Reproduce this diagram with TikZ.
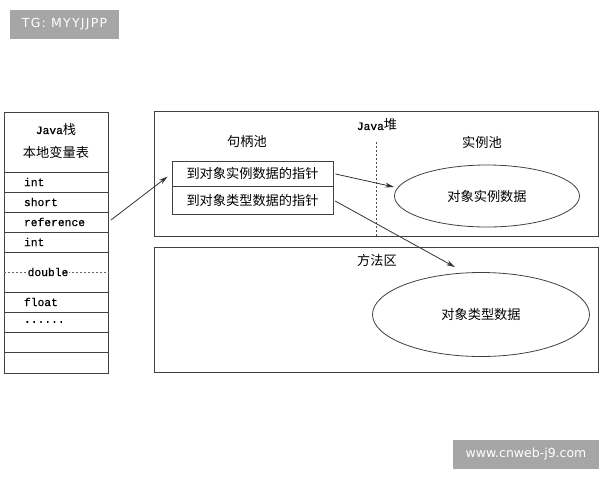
\documentclass[tikz,border=0pt]{standalone}
\usepackage{fontspec}
\setmonofont[FakeBold=0.6]{Liberation Mono}
\newfontfamily\cjk{Noto Sans CJK SC}
\newfontfamily\wmfont{DejaVu Sans}
\usetikzlibrary{arrows.meta,shapes.geometric}
\newcommand{\monofs}{\fontsize{11.3}{13}\selectfont\ttfamily}
\newcommand{\cjkfs}{\fontsize{13.2}{15}\selectfont\cjk}
\newcommand{\wmfs}{\fontsize{12.5}{14}\selectfont\wmfont}

\begin{document}
\begin{tikzpicture}[x=1pt,y=-1pt,line width=0.8pt,
  slot/.style={draw=black!75,minimum width=104pt,minimum height=20pt,text width=64pt,inner xsep=20pt,inner ysep=0pt,align=left,font=\monofs},
  cell/.style={draw=black!75,minimum width=161pt,inner sep=0pt,font=\cjkfs},
  pool/.style={draw=black!75,ellipse,inner sep=0pt,font=\cjkfs},
  arr/.style={-{Stealth[length=9pt,width=5pt]},draw=black!80},
  tag/.style={fill=black!35,text=white,minimum height=29pt,inner sep=0pt,font=\wmfs}]
\useasboundingbox (0,0) rectangle (600,480);
\tikzstyle{every node}+=[inner sep=0pt]

% Java stack
\node [draw=black!75,minimum width=104pt,minimum height=60pt] (head) at (56,142) {};
\node (stk) at (56,129) {\monofs Java\cjkfs 栈};
\node [font=\cjkfs] (vars) at (56,152) {本地变量表};
\node [slot] (s1) at (56,182) {int};
\node [slot] (s2) at (56,202) {short};
\node [slot] (ref) at (56,222) {reference};
\node [slot] (s4) at (56,242) {int};
\node [slot,minimum height=40pt] (s5) at (56,272) {};
\draw [black!60,line width=0.5pt,dash pattern=on 2pt off 2pt] (s5.west) -- (s5.east);
\node [fill=white,inner xsep=1pt,inner ysep=2pt,font=\monofs] (dbl) at (48,272) {double};
\node [slot] (s6) at (56,302) {float};
\node [slot] (s7) at (56,322) {......};
\node [slot] (s8) at (56,342) {};
\node [slot,minimum height=21pt] (s9) at (56,362.5) {};

% Java heap
\draw [black!75] (154,111) rectangle (598,236);
\node (heap) at (377,125) {\monofs Java\cjkfs 堆};
\node [font=\cjkfs] (hpool) at (247,142) {句柄池};
\node [font=\cjkfs] (ipool) at (482,142) {实例池};
\draw [black!70,line width=0.6pt,dash pattern=on 2pt off 2pt] (376,142) -- (376,236);
\node [cell,minimum height=25pt] (ptr1) at (252.5,173.5) {到对象实例数据的指针};
\node [cell,minimum height=28pt] (ptr2) at (252.5,200) {到对象类型数据的指针};
\node [pool,minimum width=185pt,minimum height=62pt] (inst) at (487,196) {对象实例数据};

% method area
\draw [black!75] (154,247) rectangle (598,372);
\node [font=\cjkfs] (marea) at (377,260) {方法区};
\node [pool,minimum width=217pt,minimum height=84pt] (cls) at (481,314.5) {对象类型数据};

% references
\draw [arr,shorten <=3pt,shorten >=5pt] (ref.east) -- (ptr1.west);
\draw [arr,shorten <=2pt] (ptr1.east) -- ([yshift=9pt]inst.west);
\draw [arr,shorten <=2pt] (ptr2.east) -- ([xshift=-26pt,yshift=5pt]cls.north);

% marks
\node [tag,minimum width=109pt] (tg) at (64.5,24.5) {\addfontfeatures{LetterSpace=10}TG: MYYJJPP};
\node [tag,minimum width=146pt] (www) at (526,454.5) {www.cnweb-j9.com};
\end{tikzpicture}
\end{document}
